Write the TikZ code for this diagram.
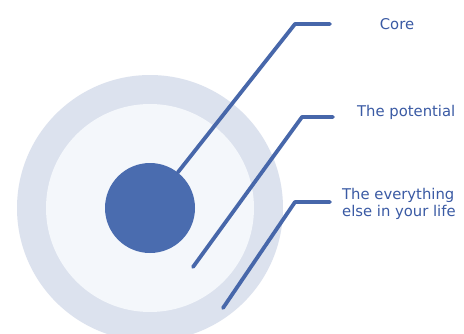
\documentclass[tikz,border=0pt]{standalone}
\usepackage{fontspec}
\setmainfont{DejaVu Sans}
\definecolor{ringc}{HTML}{DCE2EE}
\definecolor{innerc}{HTML}{F4F7FB}
\definecolor{corec}{HTML}{4A6CAF}
\definecolor{linec}{HTML}{4767AA}
\definecolor{textc}{HTML}{3A5AA4}
\begin{document}
\begin{tikzpicture}[x=1pt,y=-1pt,
  disc/.style={circle,inner sep=0pt,draw=none},
  leader/.style={draw=linec,line width=3.8pt,line cap=round,line join=round},
  lbl/.style={text=textc,font=\fontsize{14.8}{17}\selectfont,inner sep=0pt}]
\useasboundingbox (0,0) rectangle (464,333);
\clip (0,0) rectangle (464,333);
\fill[white] (0,0) rectangle (464,333);
\node[disc,fill=ringc,minimum size=266pt] (outer) at (150,208) {};
\node[disc,fill=innerc,minimum size=208pt] (inner) at (150,208) {};
\node[disc,fill=corec,minimum size=90pt] (core) at (150,208) {};
\coordinate (c1) at (295,24);
\coordinate (e1) at (330,24);
\coordinate (s2) at (193,267);
\coordinate (c2) at (302,117);
\coordinate (e2) at (333,117);
\coordinate (s3) at (223,308);
\coordinate (c3) at (295,202);
\coordinate (e3) at (330,202);
\draw[leader] (core.52) -- (c1) -- (e1);
\draw[leader] (s2) -- (c2) -- (e2);
\draw[leader] (s3) -- (c3) -- (e3);
\node[lbl] (t1) at (397,24) {Core};
\node[lbl,anchor=west] (t2) at (357,112) {The potential};
\node[lbl,anchor=west,align=left] (t3) at (342,204) {The everything\\else in your life};
\end{tikzpicture}
\end{document}
